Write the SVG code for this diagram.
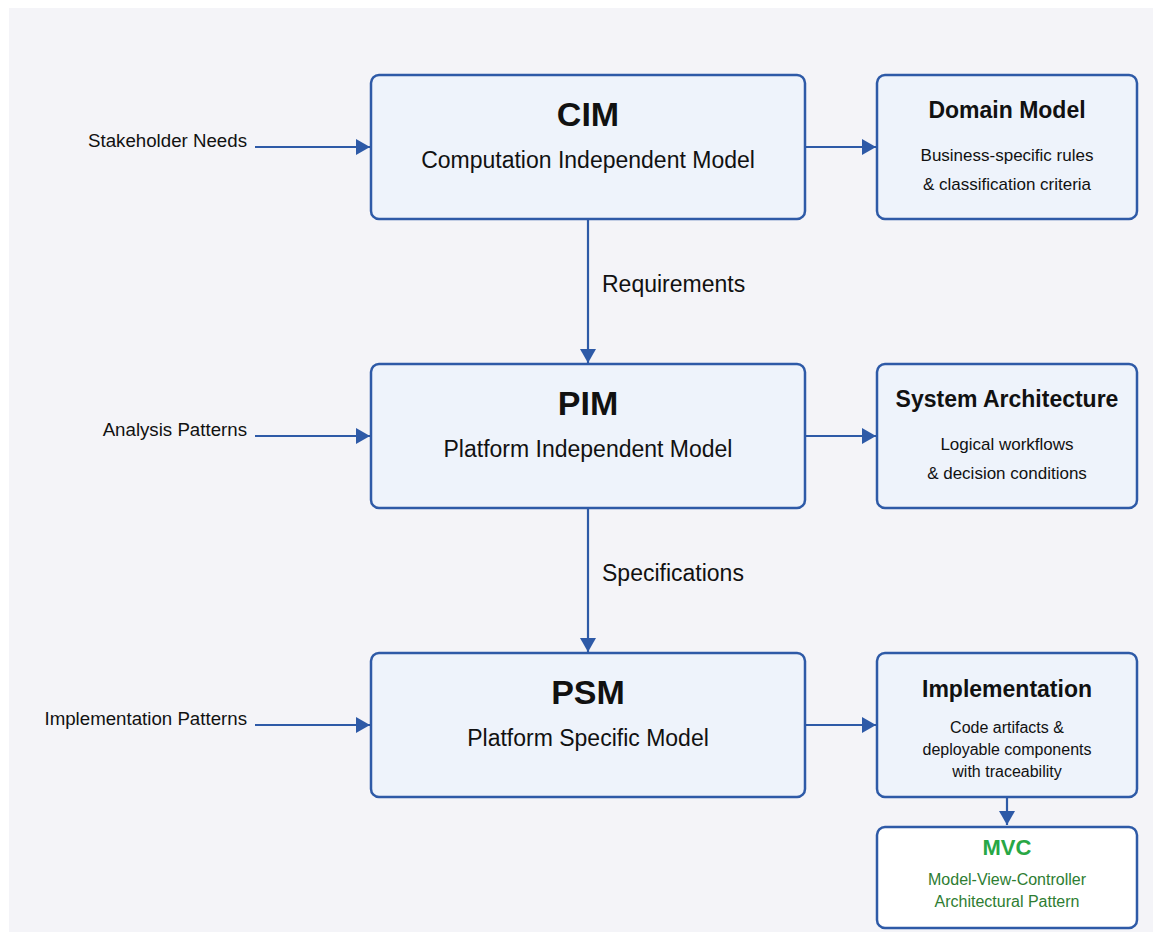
<svg xmlns="http://www.w3.org/2000/svg" width="1153" height="932" viewBox="0 0 1153 932">
<defs>
<marker id="arr" markerUnits="userSpaceOnUse" markerWidth="15" markerHeight="17" refX="14" refY="8" orient="auto">
<path d="M0,0 L14,8 L0,16 z" fill="#2e5aa7"/>
</marker>
<style>
.box{fill:#eef3fb;stroke:#2e5aa7;stroke-width:2.5}
.wbox{fill:#ffffff;stroke:#2e5aa7;stroke-width:2.5}
.con{stroke:#2e5aa7;stroke-width:2.2;fill:none;marker-end:url(#arr)}
text{font-family:"Liberation Sans",Arial,sans-serif;fill:#111}
.big{font-size:34px;font-weight:bold;text-anchor:middle}
.sub{font-size:23px;text-anchor:middle}
.ttl{font-size:23px;font-weight:bold;text-anchor:middle}
.desc{font-size:17px;text-anchor:middle}
.desc2{font-size:16px;text-anchor:middle}
.lbl{font-size:18.7px;text-anchor:end}
.elbl{font-size:23px}
.gttl{font-size:22px;font-weight:bold;text-anchor:middle;fill:#28a745}
.gdesc{font-size:16px;text-anchor:middle;fill:#2e7d32}
</style>
</defs>
<rect x="0" y="0" width="1153" height="932" fill="#ffffff"/>
<rect x="9" y="8" width="1144" height="924" fill="#f4f4f8"/>

<g id="connectors">
<line class="con" x1="255" y1="147" x2="370" y2="147"/>
<line class="con" x1="255" y1="436" x2="370" y2="436"/>
<line class="con" x1="255" y1="725" x2="370" y2="725"/>
<line class="con" x1="805" y1="147" x2="876" y2="147"/>
<line class="con" x1="805" y1="436" x2="876" y2="436"/>
<line class="con" x1="805" y1="725" x2="876" y2="725"/>
<line class="con" x1="588" y1="219" x2="588" y2="363"/>
<line class="con" x1="588" y1="508" x2="588" y2="652"/>
<line class="con" x1="1007" y1="797" x2="1007" y2="825"/>
<text class="lbl" x="247" y="147">Stakeholder Needs</text>
<text class="lbl" x="247" y="436">Analysis Patterns</text>
<text class="lbl" x="247" y="725">Implementation Patterns</text>
<text class="elbl" x="602" y="291.5">Requirements</text>
<text class="elbl" x="602" y="580.5">Specifications</text>
</g>

<g id="cim">
<rect class="box" x="371" y="75" width="434" height="144" rx="8"/>
<text class="big" x="588" y="125.5">CIM</text>
<text class="sub" x="588" y="167.5">Computation Independent Model</text>
</g>
<g id="domain-model">
<rect class="box" x="877" y="75" width="260" height="144" rx="8"/>
<text class="ttl" x="1007" y="118">Domain Model</text>
<text class="desc" x="1007" y="161">Business-specific rules</text>
<text class="desc" x="1007" y="190">&amp; classification criteria</text>
</g>

<g id="pim">
<rect class="box" x="371" y="364" width="434" height="144" rx="8"/>
<text class="big" x="588" y="414.5">PIM</text>
<text class="sub" x="588" y="456.5">Platform Independent Model</text>
</g>
<g id="system-architecture">
<rect class="box" x="877" y="364" width="260" height="144" rx="8"/>
<text class="ttl" x="1007" y="407">System Architecture</text>
<text class="desc" x="1007" y="450">Logical workflows</text>
<text class="desc" x="1007" y="479">&amp; decision conditions</text>
</g>

<g id="psm">
<rect class="box" x="371" y="653" width="434" height="144" rx="8"/>
<text class="big" x="588" y="703.5">PSM</text>
<text class="sub" x="588" y="745.5">Platform Specific Model</text>
</g>
<g id="implementation">
<rect class="box" x="877" y="653" width="260" height="144" rx="8"/>
<text class="ttl" x="1007" y="697">Implementation</text>
<text class="desc2" x="1007" y="733">Code artifacts &amp;</text>
<text class="desc2" x="1007" y="755">deployable components</text>
<text class="desc2" x="1007" y="777">with traceability</text>
</g>

<g id="mvc">
<rect class="wbox" x="877" y="827" width="260" height="101" rx="8"/>
<text class="gttl" x="1007" y="855">MVC</text>
<text class="gdesc" x="1007" y="885">Model-View-Controller</text>
<text class="gdesc" x="1007" y="906.5">Architectural Pattern</text>
</g>
</svg>
